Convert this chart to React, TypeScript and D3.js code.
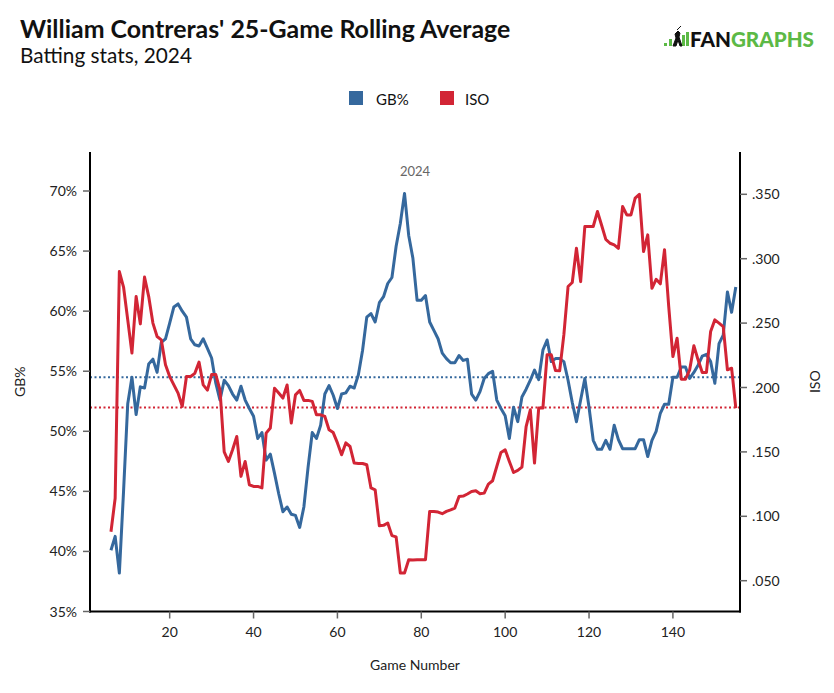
import React, { useEffect } from "react";
import * as d3 from "d3";

const games: number[] = d3.range(6, 156);

const gbPct: number[] = [
  40.1, 41.25, 38.2, 45.0, 52.3, 54.5, 51.4, 53.7, 53.6, 55.6,
  56.0, 54.9, 57.4, 57.7, 59.0, 60.35, 60.6, 60.0, 59.5, 57.7,
  57.2, 57.1, 57.7, 56.9, 56.1, 54.0, 52.6, 54.25, 53.8, 53.1,
  52.6, 53.75, 52.6, 51.9, 51.25, 49.4, 49.9, 47.6, 48.1, 46.5,
  44.8, 43.3, 43.7, 43.1, 43.0, 42.0, 43.7, 47.0, 49.9, 49.4,
  50.5, 53.1, 53.8, 53.0, 51.9, 53.1, 53.2, 53.75, 53.6, 54.7,
  56.75, 59.5, 59.8, 59.1, 60.7, 61.2, 62.3, 62.8, 65.4, 67.3,
  69.8, 66.3, 64.4, 60.9, 60.9, 61.3, 59.1, 58.4, 57.7, 56.5,
  56.05, 55.7, 55.7, 56.3, 55.9, 56.0, 53.1, 52.6, 53.3, 54.4,
  54.8, 55.0, 52.6, 51.9, 51.3, 49.4, 52.0, 50.8, 52.85, 53.5,
  54.25, 55.1, 54.3, 56.75, 57.6, 55.8, 56.05, 56.05, 55.8, 54.25,
  52.4, 50.8, 52.6, 54.4, 52.0, 49.25, 48.5, 48.5, 49.25, 48.5,
  50.5, 49.3, 48.55, 48.55, 48.55, 48.55, 49.3, 49.3, 47.9, 49.25,
  50.0, 51.5, 52.25, 52.25, 54.5, 54.5, 55.35, 55.35, 54.4, 54.9,
  55.5, 56.25, 56.4, 55.8, 54.0, 57.3, 58.0, 61.6, 59.9, 62.0,
];

const iso: number[] = [
  0.088, 0.114, 0.29, 0.278, 0.2525, 0.2267, 0.2706, 0.2494, 0.2857, 0.2706,
  0.25, 0.2396, 0.237, 0.2176, 0.2085, 0.202, 0.1956, 0.1853, 0.2085, 0.2085,
  0.211, 0.2197, 0.202, 0.198, 0.21, 0.21, 0.198, 0.15, 0.1426, 0.1517,
  0.162, 0.131, 0.1426, 0.1245, 0.1232, 0.1232, 0.122, 0.1646, 0.1685, 0.1995,
  0.1957, 0.1918, 0.202, 0.1724, 0.1943, 0.1977, 0.19, 0.19, 0.1892, 0.1788,
  0.1788, 0.1775, 0.1672, 0.165, 0.157, 0.1478, 0.157, 0.1542, 0.1413, 0.141,
  0.141, 0.14, 0.122, 0.1206, 0.0927, 0.093, 0.0948, 0.085, 0.084, 0.056,
  0.056, 0.0663, 0.066, 0.0663, 0.0663, 0.0663, 0.1038, 0.1038, 0.1033, 0.102,
  0.1038, 0.105, 0.1064, 0.1154, 0.1157, 0.1173, 0.1193, 0.1198, 0.1175, 0.118,
  0.125, 0.1276, 0.1387, 0.1496, 0.1517, 0.1426, 0.134, 0.1356, 0.1382, 0.1697,
  0.1827, 0.1413, 0.184, 0.184, 0.2254, 0.2254, 0.2132, 0.213, 0.241, 0.2784,
  0.2815, 0.3082, 0.2822, 0.325, 0.325, 0.325, 0.3366, 0.326, 0.315, 0.312,
  0.3107, 0.308, 0.3405, 0.334, 0.334, 0.347, 0.35, 0.3055, 0.3185, 0.277,
  0.284, 0.2805, 0.307, 0.263, 0.224, 0.2383, 0.2065, 0.2065, 0.2137, 0.2324,
  0.2215, 0.2117, 0.2117, 0.2435, 0.2525, 0.25, 0.2473, 0.2137, 0.215, 0.184,
];

const gbAverage = 54.5;
const isoAverage = 0.1845;
const gbTicks: number[] = [35, 40, 45, 50, 55, 60, 65, 70];
const isoTicks: number[] = [0.05, 0.1, 0.15, 0.2, 0.25, 0.3, 0.35];
const gameTicks: number[] = [20, 40, 60, 80, 100, 120, 140];

const BLUE = "#35689d";
const RED = "#d22535";
const GREEN = "#5cb946";
const FONT = "Lato, 'Noto Sans', sans-serif";

export default function App() {
  useEffect(() => {
    document.body.style.margin = "0";
  }, []);

  const W = 834;
  const H = 693;
  const left = 90;
  const right = 740;
  const top = 152;
  const bottom = 611.5;

  const x = d3.scaleLinear().domain([1, 156]).range([left, right]);
  const yL = d3.scaleLinear().domain([35, 70]).range([611.5, 191]);
  const yR = d3.scaleLinear().domain([0.05, 0.35]).range([580.7, 194.3]);

  const gbLine = d3
    .line<number>()
    .x((_, i) => x(games[i]))
    .y((d) => yL(d));
  const isoLine = d3
    .line<number>()
    .x((_, i) => x(games[i]))
    .y((d) => yR(d));

  const isoFmt = (v: number) => d3.format(".3f")(v).replace(/^0/, "");

  return (
    <svg width={W} height={H} style={{ display: "block", background: "#fff" }} fontFamily={FONT}>
      {/* Title */}
      <text x={20} y={38} fontSize={24.9} fontWeight={700} fill="#111">
        William Contreras' 25-Game Rolling Average
      </text>
      <text x={20} y={63} fontSize={20.8} fill="#111">
        Batting stats, 2024
      </text>

      {/* Logo */}
      <g>
        <rect x={664} y={43} width={3} height={3} fill={GREEN} />
        <rect x={669} y={39} width={3} height={7} fill={GREEN} />
        <rect x={682} y={35} width={3} height={11} fill={GREEN} />
        <rect x={686} y={32} width={3} height={14} fill={GREEN} />
        <path
          d="M673 46 L676 38 L675 34 L678 31 L680 33 L679 37 L682 46 L680 46 L678 40 L676 46 Z M677 30 L681 26"
          fill="#111"
          stroke="#111"
          strokeWidth={1}
        />
        <text x={690} y={47} fontSize={20} fontWeight={900} textLength={124} lengthAdjust="spacingAndGlyphs">
          <tspan fill="#111">FAN</tspan>
          <tspan fill={GREEN}>GRAPHS</tspan>
        </text>
      </g>

      {/* Legend */}
      <rect x={349} y={91} width={14} height={14} fill={BLUE} />
      <text x={376} y={105} fontSize={15} fill="#111">GB%</text>
      <rect x={440} y={91} width={14} height={14} fill={RED} />
      <text x={465} y={105} fontSize={15} fill="#111">ISO</text>

      {/* Season label */}
      <text x={(x(1) + x(156)) / 2} y={176} fontSize={13} fill="#666" textAnchor="middle">
        2024
      </text>

      {/* Average lines */}
      <line x1={left} x2={right} y1={yL(gbAverage)} y2={yL(gbAverage)} stroke={BLUE} strokeWidth={2} strokeDasharray="2,2.5" />
      <line x1={left} x2={right} y1={yR(isoAverage)} y2={yR(isoAverage)} stroke={RED} strokeWidth={2} strokeDasharray="2,2.5" />

      {/* Data lines */}
      <path d={gbLine(gbPct) || ""} fill="none" stroke={BLUE} strokeWidth={3} strokeLinejoin="round" />
      <path d={isoLine(iso) || ""} fill="none" stroke={RED} strokeWidth={3} strokeLinejoin="round" />

      {/* Axes */}
      <line x1={left} x2={left} y1={top} y2={bottom + 1} stroke="#000" strokeWidth={2} />
      <line x1={right} x2={right} y1={top} y2={bottom + 1} stroke="#000" strokeWidth={2} />
      <line x1={left - 1} x2={right + 1} y1={bottom} y2={bottom} stroke="#000" strokeWidth={2} />

      {gbTicks.map((t) => (
        <g key={"l" + t}>
          <line x1={left - 7} x2={left} y1={yL(t)} y2={yL(t)} stroke="#666" strokeWidth={1.5} />
          <text x={77} y={yL(t) + 5} fontSize={14} textAnchor="end" fill="#222">
            {t}%
          </text>
        </g>
      ))}
      {isoTicks.map((t) => (
        <g key={"r" + t}>
          <line x1={right} x2={right + 7} y1={yR(t)} y2={yR(t)} stroke="#666" strokeWidth={1.5} />
          <text x={752} y={yR(t) + 5} fontSize={14} fill="#222">
            {isoFmt(t)}
          </text>
        </g>
      ))}
      {gameTicks.map((t) => (
        <g key={"b" + t}>
          <line x1={x(t)} x2={x(t)} y1={bottom} y2={bottom + 7} stroke="#666" strokeWidth={1.5} />
          <text x={x(t)} y={637} fontSize={14} textAnchor="middle" fill="#222">
            {t}
          </text>
        </g>
      ))}

      {/* Axis titles */}
      <text transform={`translate(25,${(top + bottom) / 2}) rotate(-90)`} fontSize={14} textAnchor="middle" fill="#222">
        GB%
      </text>
      <text transform={`translate(820,${(top + bottom) / 2}) rotate(-90)`} fontSize={14} textAnchor="middle" fill="#222">
        ISO
      </text>
      <text x={(left + right) / 2} y={670} fontSize={14} textAnchor="middle" fill="#222">
        Game Number
      </text>
    </svg>
  );
}
